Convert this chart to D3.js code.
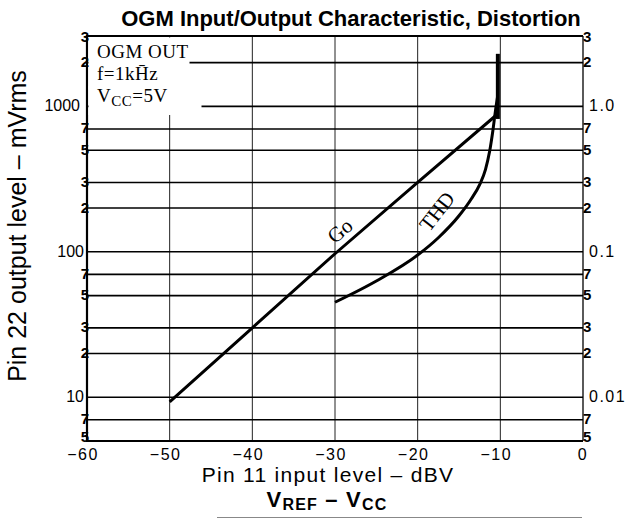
<!DOCTYPE html>
<html>
<head>
<meta charset="utf-8">
<script src="https://cdn.jsdelivr.net/npm/d3@7"></script>
<style>
  html, body { margin: 0; padding: 0; background: #fff; }
  svg { display: block; }
</style>
</head>
<body>
<svg id="chart" width="628" height="519"></svg>
<script>
// ---- data ----
const xTicks = [-60, -50, -40, -30, -20, -10, 0];
const xTickLabels = ["\u221260", "\u221250", "\u221240", "\u221230", "\u221220", "\u221210", "0"];
const yGridValues = [5, 7, 10, 20, 30, 50, 70, 100, 200, 300, 500, 700, 1000, 2000, 3000];
const leftLabels = ["5", "7", "10", "2", "3", "5", "7", "100", "2", "3", "5", "7", "1000", "2", "3"];
const rightLabels = ["5", "7", "0.01", "2", "3", "5", "7", "0.1", "2", "3", "5", "7", "1.0", "2", "3"];
// Go : output level (mVrms) vs input level (dBV)
const goX = [-50, -40, -30, -20, -10.4];
const goY = [9.3, 30, 97, 300, 880];
// THD curve (plotted on same grid; right axis %)
const thdX = [-30, -25, -20, -17.5, -15, -13.5, -12.5, -11.8, -11.3, -10.9, -10.6, -10.35];
const thdY = [45, 63, 95, 125, 177, 232, 290, 368, 489, 683, 924, 1150];
// saturation (vertical) segment
const satX = [-10.3, -10.3];
const satY = [820, 2300];

// ---- layout ----
const svg = d3.select("#chart");
const L = 87, R = 583, T = 36, B = 441;
const x = d3.scaleLinear().domain([-60, 0]).range([L, R]);
const y = d3.scaleLog().domain([5, 3050]).range([B, T]);
const sans = "'Liberation Sans', Arial, Helvetica, sans-serif";
const serif = "'Liberation Serif', 'Times New Roman', serif";

// vertical grid
svg.append("g").selectAll("line").data(xTicks.slice(1, -1)).join("line")
  .attr("x1", d => x(d)).attr("x2", d => x(d))
  .attr("y1", T).attr("y2", B)
  .attr("stroke", "#222").attr("stroke-width", 1);

// horizontal grid
svg.append("g").selectAll("line").data(yGridValues.slice(1, -1)).join("line")
  .attr("x1", L).attr("x2", R)
  .attr("y1", d => y(d)).attr("y2", d => y(d))
  .attr("stroke", "#000").attr("stroke-width", 1.6);

// frame
svg.append("line").attr("x1", L - 1).attr("x2", R).attr("y1", T).attr("y2", T).attr("stroke", "#000").attr("stroke-width", 2.2);
svg.append("line").attr("x1", L - 1).attr("x2", R).attr("y1", B).attr("y2", B).attr("stroke", "#000").attr("stroke-width", 2.2);
svg.append("line").attr("x1", L).attr("x2", L).attr("y1", T).attr("y2", B).attr("stroke", "#000").attr("stroke-width", 2.2);
svg.append("line").attr("x1", R).attr("x2", R).attr("y1", T).attr("y2", B).attr("stroke", "#000").attr("stroke-width", 1.3);

// annotation background (hides grid under the text box)
svg.append("rect").attr("x", L + 1.5).attr("y", T + 1.5).attr("width", 101).attr("height", 52).attr("fill", "#fff");
svg.append("rect").attr("x", L + 1.5).attr("y", T + 50).attr("width", 113).attr("height", 29).attr("fill", "#fff");

// curves
svg.append("path").datum(d3.zip(goX, goY))
  .attr("d", d3.line().x(d => x(d[0])).y(d => y(d[1])))
  .attr("fill", "none").attr("stroke", "#000").attr("stroke-width", 3);
svg.append("path").datum(d3.zip(thdX, thdY))
  .attr("d", d3.line().x(d => x(d[0])).y(d => y(d[1])).curve(d3.curveMonotoneX))
  .attr("fill", "none").attr("stroke", "#000").attr("stroke-width", 3);
svg.append("path").datum(d3.zip(satX, satY))
  .attr("d", d3.line().x(d => x(d[0])).y(d => y(d[1])))
  .attr("fill", "none").attr("stroke", "#000").attr("stroke-width", 4);

// curve labels
svg.append("text").attr("transform", `translate(${x(-28.85)},${y(128)}) rotate(-40)`)
  .attr("text-anchor", "middle").attr("font-family", serif).attr("font-size", 21).text("Go");
svg.append("text").attr("transform", `translate(${x(-17.0)},${y(177)}) rotate(-52)`)
  .attr("text-anchor", "middle").attr("font-family", serif).attr("font-size", 21).text("THD");

// annotation text
const ann = svg.append("g").attr("font-family", serif).attr("font-size", 19).attr("fill", "#000");
ann.append("text").attr("x", 97).attr("y", 58).attr("letter-spacing", 0.5).text("OGM OUT");
ann.append("text").attr("x", 97).attr("y", 80).attr("letter-spacing", 0.5).text("f=1kH\u0304z");
const vcc = ann.append("text").attr("x", 97).attr("y", 102).attr("letter-spacing", 0.5);
vcc.append("tspan").text("V");
vcc.append("tspan").attr("font-size", 15).attr("dy", 4).text("CC");
vcc.append("tspan").attr("dy", -4).text("=5V");

// tick label helpers
const isMajor = s => s.length > 1;
const labelY = (d, i) => i === 0 ? y(d[0]) + 0.5 : y(d[0]) + (isMajor(d[1]) ? 5 : 4.5);

// left tick labels
svg.append("g").attr("font-family", sans).attr("fill", "#000")
  .selectAll("text").data(d3.zip(yGridValues, leftLabels)).join("text")
  .attr("x", d => d[1] === "1000" ? 80 : (isMajor(d[1]) ? 84 : 89))
  .attr("y", labelY)
  .attr("text-anchor", "end")
  .attr("font-size", d => isMajor(d[1]) ? 16 : 15)
  .attr("font-weight", d => isMajor(d[1]) ? "normal" : "bold")
  .text(d => d[1]);

// right tick labels
svg.append("g").attr("font-family", sans).attr("fill", "#000")
  .selectAll("text").data(d3.zip(yGridValues, rightLabels)).join("text")
  .attr("x", d => isMajor(d[1]) ? 589 : 583)
  .attr("y", labelY)
  .attr("text-anchor", "start")
  .attr("font-size", d => isMajor(d[1]) ? 16 : 15)
  .attr("font-weight", d => isMajor(d[1]) ? "normal" : "bold")
  .attr("letter-spacing", d => isMajor(d[1]) ? 1.5 : 0)
  .text(d => d[1]);

// x tick labels
svg.append("g").attr("font-family", sans).attr("font-size", 16).attr("fill", "#000")
  .selectAll("text").data(d3.zip(xTicks, xTickLabels)).join("text")
  .attr("x", d => x(d[0]) - (d[0] === 0 ? 0 : 4))
  .attr("y", 459.5)
  .attr("text-anchor", "middle")
  .attr("letter-spacing", 1.5)
  .text(d => d[1]);

// titles
svg.append("text").attr("x", 351).attr("y", 26).attr("text-anchor", "middle")
  .attr("font-family", sans).attr("font-weight", "bold").attr("font-size", 22)
  .text("OGM Input/Output Characteristic, Distortion");
svg.append("text").attr("transform", "translate(26,226) rotate(-90)").attr("text-anchor", "middle")
  .attr("font-family", sans).attr("font-size", 25)
  .text("Pin 22 output level \u2013 mVrms");
svg.append("text").attr("x", 328).attr("y", 482).attr("text-anchor", "middle")
  .attr("font-family", sans).attr("font-size", 21).attr("letter-spacing", 1.3)
  .text("Pin 11 input level \u2013 dBV");
const vr = svg.append("text").attr("x", 327).attr("y", 506.5).attr("text-anchor", "middle")
  .attr("font-family", sans).attr("font-weight", "bold").attr("font-size", 22).attr("letter-spacing", 1.2);
vr.append("tspan").text("V");
vr.append("tspan").attr("font-size", 16).attr("dy", 3).text("REF");
vr.append("tspan").attr("dy", -3).text(" \u2013 V");
vr.append("tspan").attr("font-size", 16).attr("dy", 3).text("CC");

// cut-off edge of next chart
svg.append("line").attr("x1", 217).attr("x2", 582).attr("y1", 517.5).attr("y2", 517.5)
  .attr("stroke", "#888").attr("stroke-width", 1);
</script>
</body>
</html>
